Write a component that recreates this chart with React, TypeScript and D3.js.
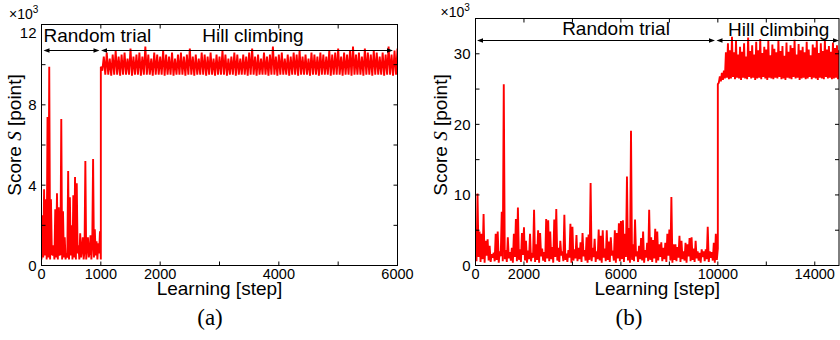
import React from "react";
import * as d3 from "d3";

// ---------- data (values in ×10^3 points) ----------
// Panel (a): random trial 0–1000 steps
const aRandom = [
  0.3, 2.5, 0.4, 3.8, 0.5, 3.3, 0.3, 7.4, 0.4, 9.9,
  0.3, 3.3, 0.6, 0.5, 1.0, 0.3, 2.8, 0.4, 3.6, 0.3,
  2.9, 0.5, 0.6, 7.3, 0.3, 2.7, 0.4, 1.4, 0.3, 0.6,
  0.4, 4.7, 0.3, 3.4, 0.5, 2.0, 0.3, 3.5, 0.4, 4.4,
  0.3, 4.1, 0.6, 1.0, 0.3, 1.6, 0.4, 0.8, 1.4, 0.3,
  0.7, 5.2, 0.3, 0.9, 1.4, 0.4, 0.7, 1.5, 0.3, 1.0,
  5.3, 0.4, 1.8, 0.5, 1.2, 0.3, 1.1, 0.6, 1.7, 0.3,
];
// Panel (a): hill climbing 1000–6000 steps (upper / lower excursions)
const aHillHi = [
  9.9, 10.4, 10.6, 10.3, 10.5, 10.7, 10.4, 10.5, 10.6, 10.3,
  10.8, 10.4, 10.5, 10.6, 10.4, 10.9, 10.5, 10.3, 10.6, 10.5,
  10.4, 10.7, 10.5, 10.4, 10.6, 10.3, 10.5, 10.6, 10.4, 10.5,
  10.8, 10.4, 10.5, 10.3, 10.6, 10.5, 10.4, 10.6, 10.3, 10.5,
  10.4, 10.7, 10.5, 10.3, 10.4, 10.6, 10.5, 10.3, 10.5, 10.4,
  10.6, 10.8, 10.4, 10.5, 10.3, 10.6, 10.4, 10.5, 10.9, 10.4,
  10.5, 10.6, 10.3, 10.5, 10.4, 10.6, 10.5, 10.7, 10.4, 10.5,
  10.3, 10.6, 10.5, 10.4, 10.6, 10.5, 10.4, 10.7, 10.5, 10.6,
  10.8, 10.4, 10.6, 10.5, 10.7, 10.9, 10.5, 10.6, 10.4, 10.8,
  10.6, 10.5, 10.7, 10.6, 10.4, 10.6, 10.5, 10.9, 10.5, 10.7,
  10.8,
];
const aHillLo = [
  9.7, 9.5, 9.5, 9.45, 9.5, 9.5, 9.45, 9.5, 9.5, 9.5,
  9.45, 9.5, 9.5, 9.45, 9.5, 9.5, 9.5, 9.45, 9.5, 9.5,
  9.5, 9.45, 9.5, 9.5, 9.45, 9.5, 9.5, 9.5, 9.45, 9.5,
  9.5, 9.45, 9.5, 9.5, 9.5, 9.45, 9.5, 9.5, 9.45, 9.5,
  9.5, 9.5, 9.45, 9.5, 9.5, 9.45, 9.5, 9.5, 9.5, 9.45,
  9.5, 9.5, 9.45, 9.5, 9.5, 9.5, 9.45, 9.5, 9.5, 9.45,
  9.5, 9.5, 9.5, 9.45, 9.5, 9.5, 9.45, 9.5, 9.5, 9.5,
  9.45, 9.5, 9.5, 9.45, 9.5, 9.5, 9.5, 9.45, 9.5, 9.5,
  9.5, 9.45, 9.5, 9.5, 9.45, 9.5, 9.5, 9.5, 9.45, 9.5,
  9.5, 9.45, 9.5, 9.5, 9.5, 9.45, 9.5, 9.5, 9.45, 9.5,
];
// Panel (b): random trial 0–10000 steps
const bRandomHi = [
  2.4, 10.2, 4.8, 4.5, 7.3, 3.5, 3.7, 2.8, 1.6, 1.8,
  4.5, 4.8, 2.0, 7.6, 25.7, 2.2, 4.0, 1.9, 2.5, 4.5,
  6.6, 8.2, 2.3, 4.6, 5.4, 3.5, 2.1, 4.5, 1.8, 7.9,
  3.0, 5.0, 4.6, 2.4, 1.9, 6.6, 6.4, 4.8, 2.6, 6.5,
  8.0, 2.5, 3.5, 2.0, 7.2, 1.7, 2.2, 5.9, 5.5, 2.3,
  4.3, 2.5, 3.3, 4.6, 2.2, 4.0, 4.4, 11.7, 2.5, 3.8,
  2.0, 5.1, 4.2, 5.0, 2.4, 5.0, 3.4, 4.0, 2.1, 5.0,
  4.6, 6.0, 6.3, 6.4, 4.5, 12.6, 5.3, 19.1, 3.0, 6.5,
  2.0, 2.8, 3.9, 4.8, 2.2, 3.2, 7.9, 4.0, 3.6, 5.2,
  4.8, 3.0, 3.3, 2.5, 3.2, 4.5, 5.1, 9.7, 3.0, 3.0,
  2.6, 4.2, 3.5, 2.0, 3.2, 3.0, 3.9, 4.0, 2.4, 3.5,
  2.0, 1.8, 2.3, 2.0, 2.3, 5.5, 2.0, 1.9, 3.2, 4.5,
  2.4,
];
const bRandomLo = [
  0.6, 1.2, 0.5, 0.9, 0.4, 1.4, 0.7, 0.5, 1.1, 0.6,
  0.8, 0.4, 1.3, 0.6, 0.9, 0.5, 1.0, 0.7, 0.4, 1.2,
  0.6, 0.8, 0.5, 1.5, 0.7, 0.4, 0.9, 0.6, 1.1, 0.5,
  0.8, 0.4, 1.3, 0.7, 0.5, 1.0, 0.6, 0.9, 0.4, 1.2,
  0.7, 0.5, 1.4, 0.6, 0.8, 0.5, 1.1, 0.4, 0.7, 1.0,
  0.6, 0.9, 0.5, 1.3, 0.7, 0.4, 0.8, 0.6, 1.2, 0.5,
  0.9, 0.7, 0.4, 1.1, 0.6, 0.8, 0.5, 1.4, 0.7, 0.4,
  1.0, 0.6, 0.9, 0.5, 1.2, 0.7, 0.4, 0.8, 0.6, 1.3,
  0.5, 0.9, 0.7, 0.4, 1.1, 0.6, 0.8, 0.5, 1.0, 0.4,
  0.7, 1.2, 0.6, 0.9, 0.5, 1.4, 0.7, 0.4, 0.8, 0.6,
  1.1, 0.5, 0.9, 0.7, 0.4, 1.3, 0.6, 0.8, 0.5, 1.0,
  0.7, 0.4, 1.2, 0.6, 0.9, 0.5, 1.1, 0.7, 0.4, 0.8,
];
// Panel (b): hill climbing 10000–15000 steps
const bHillHi = [
  25.7, 26.8, 27.3, 27.6, 30.2, 31.5, 30.5, 32.4, 30.2, 31.8,
  29.9, 31.0, 30.3, 31.5, 29.6, 32.3, 30.4, 31.2, 29.9, 31.7,
  30.5, 32.1, 30.1, 31.0, 30.6, 31.8, 29.8, 31.3, 30.7, 30.2,
  31.9, 30.4, 31.1, 29.7, 31.6, 30.3, 31.2, 30.8, 32.0, 29.9,
  31.4, 30.5, 31.0, 30.2, 31.7, 30.6, 29.8, 31.3, 30.9, 31.8,
  30.1, 31.5, 30.4, 31.9, 30.6, 31.1, 30.3, 31.6, 30.8, 31.2,
  30.5,
];
const bHillLo = [
  25.9, 26.1, 26.3, 26.5, 26.6, 26.4, 26.5, 26.7, 26.4, 26.6,
  26.5, 26.3, 26.6, 26.5, 26.4, 26.7, 26.5, 26.6, 26.3, 26.5,
  26.6, 26.4, 26.7, 26.5, 26.3, 26.6, 26.5, 26.4, 26.6, 26.5,
  26.7, 26.4, 26.5, 26.3, 26.6, 26.5, 26.4, 26.7, 26.5, 26.6,
  26.3, 26.5, 26.6, 26.4, 26.5, 26.7, 26.4, 26.6, 26.5, 26.3,
  26.6, 26.5, 26.4, 26.7, 26.5, 26.6, 26.4, 26.5, 26.6, 26.4,
];

const aXTicks = [0, 1000, 2000, 3000, 4000, 5000, 6000];
const aXLabels = [0, 1000, 2000, 4000, 6000];
const aYTicks = [0, 2, 4, 6, 8, 10, 12];
const aYLabels = [0, 4, 8, 12];
const bXTicks = [0, 2000, 4000, 6000, 8000, 10000, 12000, 14000];
const bXLabels = [0, 2000, 6000, 10000, 14000];
const bYTicks = [0, 5, 10, 15, 20, 25, 30];
const bYLabels = [0, 10, 20, 30];

const phaseNames = ["Random trial", "Hill climbing"];
const xTitle = "Learning [step]";
const captions = ["(a)", "(b)"];

type Pt = [number, number];

function evenly(values: number[], x0: number, x1: number): Pt[] {
  const n = values.length - 1;
  return values.map((v, i) => [x0 + ((x1 - x0) * i) / n, v] as Pt);
}
function interleave(hi: number[], lo: number[], x0: number, x1: number): Pt[] {
  const n = lo.length;
  const step = (x1 - x0) / n;
  const out: Pt[] = [];
  for (let i = 0; i < hi.length; i++) {
    out.push([x0 + i * step, hi[i]]);
    if (i < n) out.push([x0 + (i + 0.5) * step, lo[i]]);
  }
  return out;
}

const seriesA: Pt[] = [...evenly(aRandom, 0, 1000), ...interleave(aHillHi, aHillLo, 1000, 6000)];
const seriesB: Pt[] = [...interleave(bRandomHi, bRandomLo, 0, 10000), ...interleave(bHillHi, bHillLo, 10000, 15000)];

const SANS = "'Liberation Sans', Arial, Helvetica, sans-serif";
const SERIF = "'Liberation Serif', 'Times New Roman', serif";

interface PanelProps {
  left: number; right: number; top: number; bottom: number;
  xDomain: [number, number]; yDomain: [number, number];
  xTicks: number[]; xLabels: number[]; yTicks: number[]; yLabels: number[];
  data: Pt[];
  ylabX: number; ylabY: number;
  expX: number; expY: number;
  arrowY: number;
  arrows: [number, number][];
  texts: { x: number; y: number; anchor: string; label: string }[];
  caption: string; captionX: number;
}

function Arrow({ x1, x2, y }: { x1: number; x2: number; y: number }) {
  const L = 6, H = 2.3;
  return (
    <g>
      <line x1={x1 + 2} x2={x2 - 2} y1={y} y2={y} stroke="#000" strokeWidth={1} />
      <path d={`M${x1},${y}L${x1 + L},${y - H}L${x1 + L},${y + H}Z`} fill="#000" />
      <path d={`M${x2},${y}L${x2 - L},${y - H}L${x2 - L},${y + H}Z`} fill="#000" />
    </g>
  );
}

function Panel(p: PanelProps) {
  const x = d3.scaleLinear().domain(p.xDomain).range([p.left, p.right]);
  const y = d3.scaleLinear().domain(p.yDomain).range([p.bottom, p.top]);
  const line = d3.line<Pt>().x((d) => x(d[0])).y((d) => y(d[1]));
  const tl = 4;
  const clipId = `clip${Math.round(p.left)}`;
  return (
    <g>
      <defs>
        <clipPath id={clipId}>
          <rect x={p.left} y={p.top} width={p.right - p.left} height={p.bottom - p.top} />
        </clipPath>
      </defs>
      <path
        d={line(p.data) || ""}
        fill="none"
        stroke="#ff0000"
        strokeWidth={1.9}
        strokeLinejoin="bevel"
        clipPath={`url(#${clipId})`}
      />
      <rect x={p.left} y={p.top} width={p.right - p.left} height={p.bottom - p.top} fill="none" stroke="#000" strokeWidth={1} />
      {p.xTicks.map((t) => (
        <g key={"xt" + t}>
          <line x1={x(t)} x2={x(t)} y1={p.bottom} y2={p.bottom - tl} stroke="#000" />
          <line x1={x(t)} x2={x(t)} y1={p.top} y2={p.top + tl} stroke="#000" />
        </g>
      ))}
      {p.yTicks.map((t) => (
        <g key={"yt" + t}>
          <line x1={p.left} x2={p.left + tl} y1={y(t)} y2={y(t)} stroke="#000" />
          <line x1={p.right} x2={p.right - tl} y1={y(t)} y2={y(t)} stroke="#000" />
        </g>
      ))}
      {p.xLabels.map((t) => (
        <text key={"xl" + t} x={x(t)} y={279} textAnchor="middle" fontFamily={SANS} fontSize={14.5} fill="#000">
          {t}
        </text>
      ))}
      {p.yLabels.map((t) => (
        <text
          key={"yl" + t}
          x={p.left - 5}
          y={Math.max(y(t), p.top + 8)}
          dy="0.36em"
          textAnchor="end"
          fontFamily={SANS}
          fontSize={15}
          fill="#000"
        >
          {t}
        </text>
      ))}
      <text x={(p.left + p.right) / 2} y={294.5} textAnchor="middle" fontFamily={SANS} fontSize={19} fill="#000">
        {xTitle}
      </text>
      <text
        transform={`translate(${p.ylabX},${p.ylabY}) rotate(-90)`}
        textAnchor="middle"
        fontFamily={SANS}
        fontSize={19}
        fill="#000"
      >
        Score <tspan fontFamily={SERIF} fontStyle="italic">S</tspan> [point]
      </text>
      <text x={p.expX} y={p.expY} fontFamily={SANS} fontSize={14} fill="#000">
        ×10<tspan fontSize={10} dy={-6}>3</tspan>
      </text>
      {p.arrows.map((a, i) => (
        <Arrow key={"ar" + i} x1={a[0]} x2={a[1]} y={p.arrowY} />
      ))}
      {p.texts.map((t, i) => (
        <text key={"tx" + i} x={t.x} y={t.y} textAnchor={t.anchor as any} fontFamily={SANS} fontSize={19} fill="#000">
          {t.label}
        </text>
      ))}
      <text x={p.captionX} y={325} textAnchor="middle" fontFamily={SERIF} fontSize={23} fill="#000">
        {p.caption}
      </text>
    </g>
  );
}

export default function App() {
  return (
    <svg
      width={840}
      height={340}
      viewBox="0 0 840 340"
      style={{ position: "absolute", left: 0, top: 0, background: "#fff" }}
    >
      <rect x={0} y={0} width={840} height={340} fill="#fff" />
      <Panel
        left={41.5} right={397.5} top={24.5} bottom={265.5}
        xDomain={[0, 6000]} yDomain={[0, 12]}
        xTicks={aXTicks} xLabels={aXLabels} yTicks={aYTicks} yLabels={aYLabels}
        data={seriesA}
        ylabX={21} ylabY={135}
        expX={9} expY={18.5}
        arrowY={50.5}
        arrows={[[43.5, 99.5], [101, 393]]}
        texts={[
          { x: 43.5, y: 42, anchor: "start", label: phaseNames[0] },
          { x: 253, y: 42, anchor: "middle", label: phaseNames[1] },
        ]}
        caption={captions[0]} captionX={210}
      />
      <Panel
        left={475.5} right={839} top={18.5} bottom={265.5}
        xDomain={[0, 15000]} yDomain={[0, 35]}
        xTicks={bXTicks} xLabels={bXLabels} yTicks={bYTicks} yLabels={bYLabels}
        data={seriesB}
        ylabX={447} ylabY={135}
        expX={440.5} expY={16.5}
        arrowY={40.5}
        arrows={[[477, 715], [716.5, 839]]}
        texts={[
          { x: 616, y: 35, anchor: "middle", label: phaseNames[0] },
          { x: 728, y: 35.5, anchor: "start", label: phaseNames[1] },
        ]}
        caption={captions[1]} captionX={629}
      />
    </svg>
  );
}
